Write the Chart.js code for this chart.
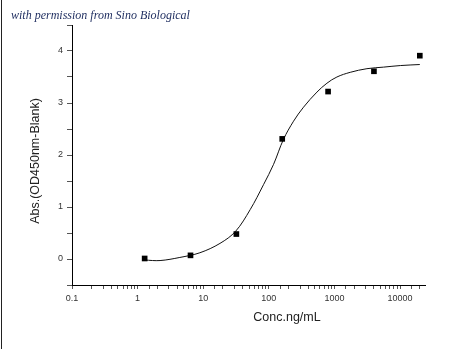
<!DOCTYPE html>
<html>
<head>
<meta charset="utf-8">
<script src="https://cdn.jsdelivr.net/npm/chart.js@4"></script>
<style>
  html, body { margin: 0; padding: 0; background: #fff; }
  #wrap { position: relative; width: 450px; height: 349px; }
  #edge { position: absolute; left: 1px; top: 0; width: 1px; height: 349px; background: #222; }
</style>
</head>
<body>
<div id="wrap">
  <canvas id="chart" width="450" height="349"></canvas>
  <div id="edge"></div>
</div>
<script>
// measured points (5-fold dilution)
const pointConc = [1.28, 6.4, 32, 160, 800, 4000, 20000];
const pointAbs = [0.01, 0.07, 0.48, 2.31, 3.22, 3.61, 3.91];

// fitted curve
const curveConc = [1.28, 2.2, 4.4, 8.9, 18, 31, 52, 83, 118, 167, 238, 338, 541, 768, 1090, 1740, 3130, 5620, 10100, 20000];
const curveAbs = [-0.02, -0.03, 0.03, 0.12, 0.30, 0.53, 0.95, 1.43, 1.82, 2.30, 2.65, 2.92, 3.21, 3.38, 3.50, 3.59, 3.66, 3.69, 3.72, 3.74];

const xLabels = ['0.1', '1', '10', '100', '1000', '10000'];
const yLabels = ['0', '1', '2', '3', '4'];

const creditText = 'with permission from Sino Biological';
const xTitle = 'Conc.ng/mL';
const yTitle = 'Abs.(OD450nm-Blank)';

function toXY(xs, ys) {
  return xs.map((x, i) => ({ x: x, y: ys[i] }));
}

// credit line and axis titles
const textPlugin = {
  id: 'texts',
  afterDraw(chart) {
    const ctx = chart.ctx;
    ctx.save();
    ctx.fillStyle = '#1c2b5e';
    ctx.font = 'italic 12px "Liberation Serif", serif';
    ctx.textAlign = 'left';
    ctx.textBaseline = 'alphabetic';
    ctx.fillText(creditText, 11, 18.5);

    ctx.fillStyle = '#222';
    ctx.font = '12.5px "Liberation Sans", Arial, sans-serif';
    ctx.textAlign = 'center';
    ctx.textBaseline = 'middle';
    ctx.fillText(xTitle, 287, 318);

    ctx.translate(36, 161);
    ctx.rotate(-Math.PI / 2);
    ctx.fillText(yTitle, 0, 0);
    ctx.restore();
  }
};

new Chart(document.getElementById('chart'), {
  type: 'scatter',
  data: {
    datasets: [{
      data: toXY(pointConc, pointAbs),
      pointStyle: 'rect',
      pointRadius: 4,
      backgroundColor: '#000',
      borderColor: '#000',
      borderWidth: 0,
      showLine: false
    }, {
      data: toXY(curveConc, curveAbs),
      showLine: true,
      pointRadius: 0,
      borderColor: '#111',
      borderWidth: 1,
      tension: 0.35
    }]
  },
  options: {
    responsive: false,
    animation: false,
    layout: { padding: { top: 25, right: 25, bottom: 0, left: 0 } },
    plugins: { legend: { display: false }, tooltip: { enabled: false } },
    scales: {
      x: {
        type: 'logarithmic',
        min: 0.1,
        max: 24000,
        afterFit: s => { s.height = 64; },
        afterBuildTicks: s => { s.ticks = s.ticks.filter(t => t.value <= 20000); },
        border: { display: true, color: '#000', width: 1 },
        grid: { drawOnChartArea: false, drawTicks: true, tickLength: 4, tickColor: '#555' },
        ticks: {
          autoSkip: false,
          maxRotation: 0,
          padding: 4,
          color: '#333',
          font: { family: '"Liberation Sans", Arial, sans-serif', size: 9 },
          callback: function (v) {
            const s = String(Number(v.toPrecision(3)));
            return xLabels.includes(s) ? s : '';
          }
        }
      },
      y: {
        min: -0.5,
        max: 4.5,
        afterFit: s => { s.width = 72; },
        border: { display: true, color: '#000', width: 1 },
        grid: { drawOnChartArea: false, drawTicks: true, tickLength: 5, tickColor: '#555' },
        ticks: {
          stepSize: 0.5,
          autoSkip: false,
          padding: 4,
          color: '#333',
          font: { family: '"Liberation Sans", Arial, sans-serif', size: 9 },
          callback: function (v) {
            const s = String(v);
            return yLabels.includes(s) ? s : '';
          }
        }
      }
    }
  },
  plugins: [textPlugin]
});
</script>
</body>
</html>
